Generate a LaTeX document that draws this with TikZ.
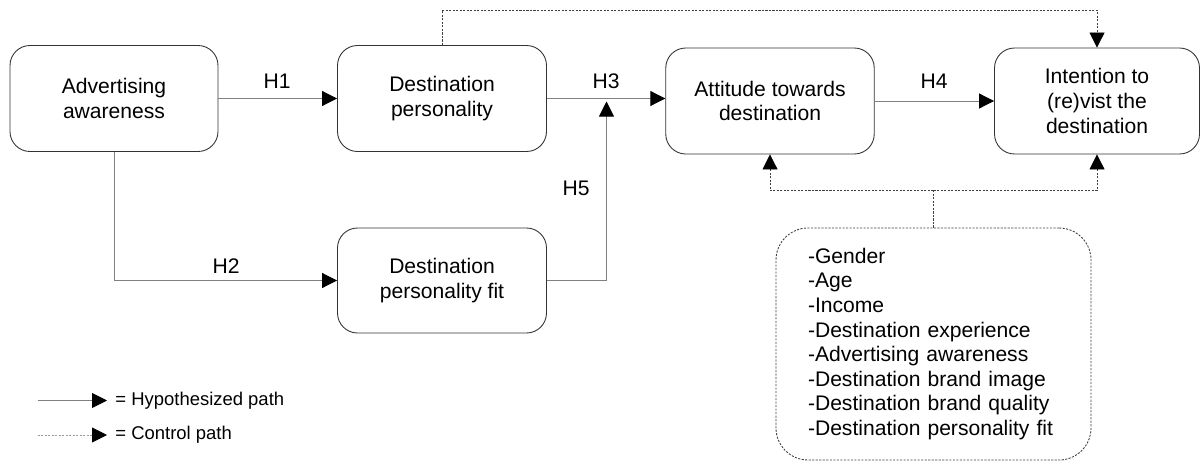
\documentclass[tikz,border=0pt]{standalone}
\usepackage{fontspec}
\setmainfont{Liberation Sans}
\usetikzlibrary{arrows.meta}

\begin{document}
\begin{tikzpicture}[font=\fontsize{12}{14}\selectfont, line width=0.5pt,
	box/.style={draw=black!80, rectangle, rounded corners=0.4cm, align=center, minimum width=4.16cm, minimum height=2.12cm},
	tip/.style={-{Triangle[length=0.3cm, width=0.3cm, color=black]}},
	hyp/.style={draw=black!50, tip},
	ctlline/.style={draw=black!75, dash pattern=on 1.2pt off 0.8pt},
	ctl/.style={ctlline, tip},
	key/.style={anchor=west, inner sep=0.16cm, font=\fontsize{10.5}{12}\selectfont}]
	\useasboundingbox (0, 0) rectangle (24, -9.24);

	\node[box] (adv) at (2.28, -1.97) {Advertising\\awareness};
	\node[box, minimum width=4.18cm] (pers) at (8.84, -1.97) {Destination\\personality};
	\node[box, minimum width=4.18cm, minimum height=2.1cm] (fit) at (8.84, -5.61) {Destination\\personality fit};
	\node[box, minimum width=4.17cm] (att) at (15.4, -2.02) {Attitude towards\\destination};
	\node[box, minimum width=4.1cm] (int) at (21.94, -2.02) {Intention to\\(re)vist the\\destination};
	\node[box, ctlline, rounded corners=0.64cm, minimum width=6.3cm, minimum height=4.64cm, text width=5.02cm, inner xsep=0.64cm, align=left] (ctrl) at (18.67, -6.88)
		{-Gender\\-Age\\-Income\\-Destination experience\\-Advertising awareness\\-Destination brand image\\-Destination brand quality\\-Destination personality fit};

	% hypothesized paths
	\draw[hyp] (adv) -- (pers);
	\draw[hyp] (pers.east) -- (pers.east -| att.west);
	\draw[hyp] (att) -- (int);
	\draw[hyp] (adv.south) |- (fit.west);
	\coordinate (h5) at (12.13, -2.03);
	\draw[hyp] (fit.east) -| (h5);

	\node (h1lbl) at (5.54, -1.62) {H1};
	\node (h2lbl) at (4.52, -5.33) {H2};
	\node (h3lbl) at (12.12, -1.62) {H3};
	\node (h4lbl) at (18.68, -1.62) {H4};
	\node (h5lbl) at (11.52, -3.76) {H5};

	% control paths
	\coordinate (ctop) at (21.94, -0.2);
	\coordinate (cmid) at (18.67, -3.81);
	\draw[ctl] (pers.north) |- (ctop) -- (int.north);
	\draw[ctlline] (ctrl.north) -- (cmid);
	\draw[ctl] (cmid) -| (att.south);
	\draw[ctl] (cmid) -| (int.south);

	% legend
	\node[key] (hypkey) at (2.14, -8.01) {= Hypothesized path};
	\node[key] (ctlkey) at (2.14, -8.7) {= Control path};
	\coordinate (hypstart) at (0.75, -8.01);
	\coordinate (ctlstart) at (0.75, -8.7);
	\draw[hyp] (hypstart) -- (hypkey);
	\draw[ctl, draw=black!40] (ctlstart) -- (ctlkey);
\end{tikzpicture}
\end{document}
